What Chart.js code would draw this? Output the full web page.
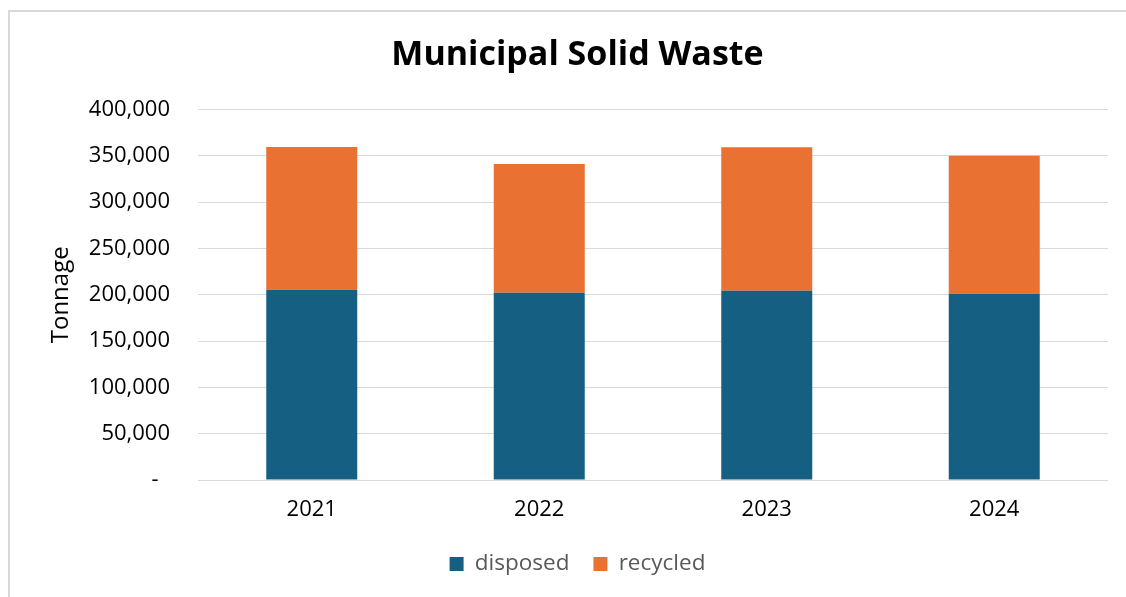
<!DOCTYPE html>
<html>
<head>
<meta charset="utf-8">
<script src="https://cdn.jsdelivr.net/npm/chart.js@4.4.1/dist/chart.umd.min.js"></script>
<style>
  html, body { margin: 0; padding: 0; background: #ffffff; overflow: hidden; }
  #wrap { position: relative; width: 1126px; height: 597px; }
  #frame { position: absolute; left: 8px; top: 10px; width: 1200px; height: 700px;
           border-left: 2px solid #d9d9d9; border-top: 2px solid #d9d9d9; pointer-events: none; }
  canvas { position: absolute; left: 0; top: 0; }
</style>
</head>
<body>
<div id="wrap">
  <canvas id="c" width="1126" height="597"></canvas>
  <div id="frame"></div>
</div>
<script>
const years = ['2021', '2022', '2023', '2024'];
const disposed = [205500, 202300, 204400, 201200];
const recycled = [154100, 139000, 154900, 149000];
const yTickValues = [0, 50000, 100000, 150000, 200000, 250000, 300000, 350000, 400000];

const FONT = 'Open Sans';

new Chart(document.getElementById('c'), {
  type: 'bar',
  data: {
    labels: years,
    datasets: [
      { label: 'disposed', data: disposed, backgroundColor: '#156082', stack: 's' },
      { label: 'recycled', data: recycled, backgroundColor: '#E97132', stack: 's' }
    ]
  },
  options: {
    responsive: false,
    animation: false,
    layout: { padding: { left: 47, right: 18, top: 0, bottom: 11.75 } },
    datasets: { bar: { categoryPercentage: 1.0, barPercentage: 0.4 } },
    plugins: {
      title: {
        display: true,
        text: 'Municipal Solid Waste',
        color: '#000000',
        font: { family: FONT, size: 34, weight: 'bold', lineHeight: 1.2 },
        padding: { top: 34.6, bottom: 34.2 }
      },
      legend: {
        position: 'bottom',
        labels: {
          boxWidth: 14, boxHeight: 14, padding: 24,
          color: '#595959',
          font: { family: FONT, size: 22.5, lineHeight: 1.0 }
        }
      },
      tooltip: { enabled: false }
    },
    scales: {
      x: {
        stacked: true,
        grid: { display: false, drawTicks: false },
        border: { display: false },
        ticks: { color: '#000000', font: { family: FONT, size: 22 }, padding: 17 },
        afterFit(s) { s.height = 48.75; }
      },
      y: {
        stacked: true,
        min: 0, max: 400000,
        afterBuildTicks(s) { s.ticks = yTickValues.map(v => ({ value: v })); },
        grid: { color: '#d9d9d9', lineWidth: 1, drawTicks: false },
        border: { display: false },
        ticks: {
          color: '#000000',
          font: { family: FONT, size: 22 },
          padding: 28,
          callback: v => v === 0 ? '-  ' : v.toLocaleString('en-US')
        },
        title: {
          display: true, text: 'Tonnage', color: '#000000',
          font: { family: FONT, size: 24, lineHeight: 1.2 },
          padding: { top: 0, bottom: 0 }
        },
        afterFit(s) { s.width = 151; }
      }
    }
  }
});
</script>
</body>
</html>
